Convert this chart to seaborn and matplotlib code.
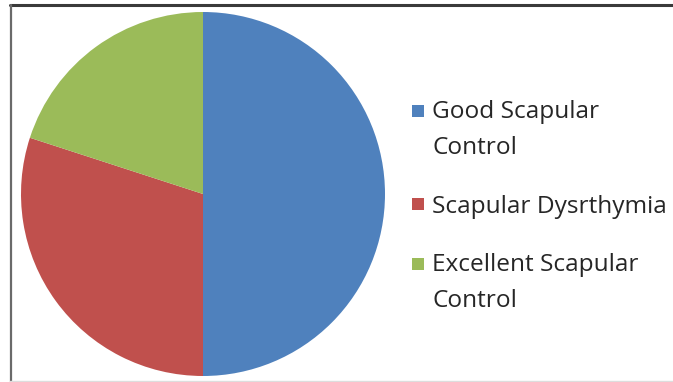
import matplotlib
matplotlib.use("Agg")
import matplotlib.pyplot as plt
from matplotlib.patches import Patch, Rectangle
from matplotlib.legend_handler import HandlerPatch
from matplotlib.lines import Line2D
import seaborn as sns

categories = ["Good Scapular\nControl", "Scapular Dysrthymia", "Excellent Scapular\nControl"]
shares = [50, 30, 20]
colors = ["#4F81BD", "#C0504D", "#9BBB59"]

sns.set_theme(style="white")
plt.rcParams["font.family"] = ["Open Sans", "DejaVu Sans"]

W, H = 673, 382
FS = 17.6
LINESPACING = 1.67

fig = plt.figure(figsize=(W / 100, H / 100), dpi=100)
fig.patch.set_facecolor("white")

# chart frame: dark top and left edges, faint bottom edge
fig.add_artist(Line2D([10 / W, 1], [1 - 4.5 / H] * 2, transform=fig.transFigure,
                      color="#3a3a3a", linewidth=2.2))
fig.add_artist(Line2D([10.5 / W] * 2, [0, 1 - 4.5 / H], transform=fig.transFigure,
                      color="#6a6a6a", linewidth=1.6))
fig.add_artist(Line2D([10 / W, 1], [1.5 / H] * 2, transform=fig.transFigure,
                      color="#dddddd", linewidth=1.0))

cx, cy, r = 203, 194, 182
ax = fig.add_axes([(cx - r) / W, (H - cy - r) / H, 2 * r / W, 2 * r / H])
ax.pie(shares, colors=colors, startangle=90, counterclock=False,
       wedgeprops=dict(linewidth=0), radius=1.0)
ax.set_xlim(-1, 1)
ax.set_ylim(-1, 1)
ax.axis("off")


def top_line_square(n_lines):
    # keep the square beside the first line of a wrapped label
    def make(legend, orig_handle, xdescent, ydescent, width, height, fontsize):
        shift = 0.5 * (n_lines - 1) * LINESPACING * fontsize * 0.95
        side = 0.48 * fontsize
        return Rectangle((-xdescent, -ydescent + (height - side) / 2 + shift), side, side)
    return HandlerPatch(patch_func=make)


handles = [Patch(facecolor=c, edgecolor="none") for c in colors]
handler_map = {h: top_line_square(lab.count("\n") + 1) for h, lab in zip(handles, categories)}
leg = fig.legend(handles, categories, loc="upper left", handler_map=handler_map,
                 bbox_to_anchor=(407 / W, 1 - 95 / H), frameon=False,
                 fontsize=FS, handlelength=0.48, handleheight=0.48,
                 handletextpad=0.36, labelspacing=1.42, labelcolor="#262626",
                 borderaxespad=0, borderpad=0.2)
for t in leg.get_texts():
    t.set_linespacing(LINESPACING)

fig.savefig("out.png", dpi=100)
